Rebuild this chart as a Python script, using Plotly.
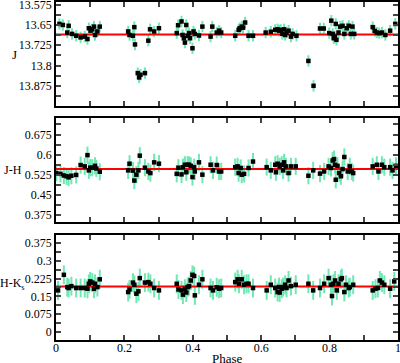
import plotly.graph_objects as go

# ---------------- data ----------------
phase_J = [0.010, 0.020, 0.033, 0.037, 0.047, 0.059, 0.072, 0.084, 0.092, 0.096, 0.101, 0.106, 0.111, 0.114, 0.121, 0.128,
           0.211, 0.215, 0.225, 0.229, 0.231, 0.239, 0.243, 0.247, 0.260, 0.270, 0.275, 0.287, 0.301,
           0.353, 0.357, 0.367, 0.370, 0.374, 0.377, 0.381, 0.385, 0.389, 0.392, 0.399, 0.402, 0.406, 0.418, 0.428,
           0.452, 0.457, 0.470, 0.477, 0.483,
           0.524, 0.534, 0.537, 0.543, 0.547, 0.553, 0.563, 0.576,
           0.613, 0.628, 0.641, 0.648, 0.652, 0.657, 0.662, 0.667, 0.670, 0.674, 0.680, 0.687, 0.692, 0.703,
           0.738, 0.753, 0.772, 0.783, 0.799, 0.805, 0.809, 0.812, 0.815, 0.818, 0.820, 0.826, 0.831, 0.838, 0.843,
           0.850, 0.856, 0.862, 0.867, 0.872,
           0.926, 0.932, 0.938, 0.945, 0.953, 0.963, 0.977, 0.992]
J = [13.646, 13.650, 13.678, 13.653, 13.683, 13.690, 13.696, 13.693, 13.702, 13.662, 13.671, 13.666, 13.656, 13.687, 13.674, 13.656,
     13.674, 13.687, 13.690, 13.658, 13.722, 13.828, 13.844, 13.834, 13.828, 13.708, 13.666, 13.674, 13.662,
     13.680, 13.651, 13.637, 13.687, 13.699, 13.715, 13.650, 13.690, 13.680, 13.699, 13.736, 13.674, 13.683, 13.689, 13.656,
     13.693, 13.656, 13.678, 13.671, 13.678,
     13.690, 13.668, 13.662, 13.656, 13.660, 13.641, 13.690, 13.690,
     13.678, 13.675, 13.668, 13.666, 13.671, 13.668, 13.683, 13.666, 13.687, 13.678, 13.671, 13.693, 13.683, 13.690,
     13.783, 13.875, 13.663, 13.663, 13.680, 13.634, 13.683, 13.699, 13.693, 13.646, 13.705, 13.678, 13.656, 13.653, 13.683,
     13.662, 13.653, 13.683, 13.656, 13.683,
     13.658, 13.672, 13.678, 13.680, 13.678, 13.687, 13.671, 13.646]
err_J = 0.021
mean_J = 13.685

phase_JH = [0.001, 0.013, 0.023, 0.031, 0.037, 0.045, 0.059, 0.072, 0.084, 0.092, 0.096, 0.100, 0.106, 0.114, 0.118, 0.128,
            0.211, 0.215, 0.225, 0.229, 0.235, 0.241, 0.245, 0.260, 0.270, 0.276, 0.287, 0.301,
            0.353, 0.358, 0.367, 0.371, 0.377, 0.381, 0.385, 0.389, 0.394, 0.399, 0.404, 0.406, 0.418, 0.428,
            0.452, 0.459, 0.470, 0.477, 0.483,
            0.524, 0.531, 0.534, 0.540, 0.543, 0.550, 0.563, 0.576,
            0.616, 0.628, 0.641, 0.643, 0.648, 0.654, 0.660, 0.664, 0.667, 0.672, 0.680, 0.687, 0.701,
            0.738, 0.752, 0.772, 0.784, 0.797, 0.804, 0.809, 0.813, 0.816, 0.818, 0.823, 0.828, 0.833, 0.838, 0.843,
            0.853, 0.859, 0.865, 0.869,
            0.926, 0.938, 0.943, 0.953, 0.960, 0.977, 0.984, 0.994]
JH = [0.531, 0.528, 0.522, 0.519, 0.515, 0.521, 0.524, 0.561, 0.556, 0.598, 0.541, 0.551, 0.551, 0.558, 0.548, 0.536,
      0.541, 0.566, 0.540, 0.503, 0.525, 0.541, 0.596, 0.551, 0.537, 0.531, 0.571, 0.566,
      0.528, 0.551, 0.526, 0.553, 0.562, 0.534, 0.562, 0.562, 0.558, 0.516, 0.553, 0.537, 0.571, 0.525,
      0.562, 0.541, 0.561, 0.537, 0.537,
      0.553, 0.556, 0.531, 0.550, 0.525, 0.528, 0.550, 0.574,
      0.553, 0.541, 0.562, 0.534, 0.566, 0.556, 0.562, 0.541, 0.571, 0.556, 0.531, 0.556, 0.556,
      0.521, 0.541, 0.529, 0.537, 0.556, 0.550, 0.578, 0.583, 0.562, 0.506, 0.558, 0.531, 0.519, 0.546, 0.591,
      0.537, 0.556, 0.537, 0.531,
      0.556, 0.562, 0.537, 0.562, 0.553, 0.553, 0.541, 0.558]
err_JH = 0.032
mean_JH = 0.546

phase_HK = [0.006, 0.023, 0.033, 0.037, 0.045, 0.059, 0.072, 0.084, 0.092, 0.096, 0.100, 0.106, 0.111, 0.114, 0.121, 0.128,
            0.211, 0.215, 0.225, 0.229, 0.235, 0.241, 0.245, 0.260, 0.270, 0.276, 0.287, 0.301,
            0.353, 0.358, 0.367, 0.371, 0.377, 0.381, 0.385, 0.389, 0.394, 0.399, 0.404, 0.406, 0.418, 0.428,
            0.452, 0.459, 0.470, 0.477, 0.483,
            0.524, 0.531, 0.535, 0.543, 0.550, 0.557, 0.563, 0.576,
            0.616, 0.628, 0.641, 0.648, 0.652, 0.654, 0.660, 0.664, 0.670, 0.674, 0.680, 0.687, 0.701,
            0.738, 0.752, 0.772, 0.784, 0.797, 0.804, 0.807, 0.811, 0.816, 0.821, 0.826, 0.833, 0.836, 0.843,
            0.848, 0.856, 0.859, 0.869,
            0.926, 0.934, 0.941, 0.947, 0.953, 0.960, 0.977, 0.989]
HK = [0.175, 0.241, 0.189, 0.185, 0.193, 0.185, 0.185, 0.185, 0.182, 0.203, 0.213, 0.208, 0.182, 0.203, 0.189, 0.222,
      0.168, 0.179, 0.208, 0.199, 0.161, 0.171, 0.227, 0.208, 0.210, 0.203, 0.185, 0.175,
      0.203, 0.179, 0.175, 0.157, 0.182, 0.166, 0.189, 0.193, 0.217, 0.241, 0.236, 0.154, 0.199, 0.222,
      0.185, 0.175, 0.188, 0.182, 0.185,
      0.210, 0.222, 0.203, 0.222, 0.199, 0.203, 0.203, 0.185,
      0.175, 0.199, 0.185, 0.168, 0.189, 0.166, 0.182, 0.189, 0.199, 0.185, 0.217, 0.193, 0.199,
      0.203, 0.175, 0.185, 0.203, 0.227, 0.199, 0.151, 0.203, 0.217, 0.175, 0.203, 0.222, 0.227, 0.168,
      0.199, 0.185, 0.189, 0.199,
      0.175, 0.182, 0.185, 0.217, 0.208, 0.199, 0.182, 0.213]
err_HK = 0.040
mean_HK = 0.192

x_ticks = [0, 0.1, 0.2, 0.3, 0.4, 0.5, 0.6, 0.7, 0.8, 0.9, 1.0]
x_ticktext = ["0", "", "0.2", "", "0.4", "", "0.6", "", "0.8", "", "1"]

J_ticks = [13.575, 13.6125, 13.65, 13.6875, 13.725, 13.7625, 13.8, 13.8375, 13.875, 13.9125]
J_ticktext = ["13.575", "", "13.65", "", "13.725", "", "13.8", "", "13.875", ""]
JH_ticks = [0.375, 0.4125, 0.45, 0.4875, 0.525, 0.5625, 0.6, 0.6375, 0.675, 0.7125]
JH_ticktext = ["0.375", "", "0.45", "", "0.525", "", "0.6", "", "0.675", ""]
HK_ticks = [0, 0.0375, 0.075, 0.1125, 0.15, 0.1875, 0.225, 0.2625, 0.3, 0.3375, 0.375]
HK_ticktext = ["0", "", "0.075", "", "0.15", "", "0.225", "", "0.3", "", "0.375"]

# ---------------- figure ----------------
FONT = "Liberation Serif"
GREEN = "#6fe8b4"
fig = go.Figure()

panels = [
    (phase_J, J, err_J, mean_J, "x", "y"),
    (phase_JH, JH, err_JH, mean_JH, "x2", "y2"),
    (phase_HK, HK, err_HK, mean_HK, "x3", "y3"),
]
for px, py, er, mn, xa, ya in panels:
    fig.add_trace(go.Scatter(x=px, y=py, mode="markers", xaxis=xa, yaxis=ya,
                             marker=dict(color="rgba(0,0,0,0)", size=1),
                             error_y=dict(type="constant", value=er, color=GREEN, thickness=2, width=0),
                             showlegend=False, hoverinfo="skip"))
    fig.add_trace(go.Scatter(x=[0, 1], y=[mn, mn], mode="lines", xaxis=xa, yaxis=ya,
                             line=dict(color="#ff0000", width=2), showlegend=False))
    fig.add_trace(go.Scatter(x=px, y=py, mode="markers", xaxis=xa, yaxis=ya,
                             marker=dict(color="black", size=4.5, symbol="square"),
                             showlegend=False))

def xaxis(anchor, labels):
    return dict(range=[0, 1], domain=[0, 1], anchor=anchor,
                tickmode="array", tickvals=x_ticks, ticktext=x_ticktext,
                showticklabels=labels, ticks="inside", ticklen=5, tickwidth=1.5,
                showline=True, linecolor="black", linewidth=1.5, mirror="allticks",
                showgrid=False, zeroline=False, ticklabeloverflow="allow",
                ticklabelstandoff=-4,
                tickfont=dict(family=FONT, size=12, color="black"))

def yaxis(anchor, rng, dom, tv, tt):
    return dict(range=rng, domain=dom, anchor=anchor,
                tickmode="array", tickvals=tv, ticktext=tt,
                ticks="inside", ticklen=5, tickwidth=1.5,
                showline=True, linecolor="black", linewidth=1.5, mirror="allticks",
                showgrid=False, zeroline=False, ticklabeloverflow="allow",
                tickfont=dict(family=FONT, size=12, color="black"))

fig.update_layout(
    width=400, height=363,
    margin=dict(l=56, r=2, t=2, b=23, autoexpand=False),
    paper_bgcolor="white", plot_bgcolor="white",
    font=dict(family=FONT, size=12, color="black"),
    xaxis=xaxis("y", False),
    xaxis2=xaxis("y2", False),
    xaxis3=xaxis("y3", True),
    yaxis=yaxis("x", [13.95, 13.565], [0.692, 1.0], J_ticks, J_ticktext),
    yaxis2=yaxis("x2", [0.348, 0.737], [0.349, 0.657], JH_ticks, JH_ticktext),
    yaxis3=yaxis("x3", [-0.035, 0.41], [0.0, 0.311], HK_ticks, HK_ticktext),
    annotations=[
        dict(text="J", xref="paper", yref="paper", x=-0.12, y=0.846, xanchor="center", yanchor="middle",
             showarrow=False, font=dict(family=FONT, size=13)),
        dict(text="J-H", xref="paper", yref="paper", x=-0.126, y=0.503, xanchor="center", yanchor="middle",
             showarrow=False, font=dict(family=FONT, size=12)),
        dict(text="H-K<sub>s</sub>", xref="paper", yref="paper", x=-0.127, y=0.165, xanchor="center", yanchor="middle",
             showarrow=False, font=dict(family=FONT, size=12)),
        dict(text="Phase", xref="paper", yref="paper", x=0.5, y=-0.054, xanchor="center", yanchor="middle",
             showarrow=False, font=dict(family=FONT, size=13)),
    ],
)

fig.write_html("out.html", config={"displayModeBar": False},
               post_script="document.body.style.margin='0';document.body.style.padding='0';")
